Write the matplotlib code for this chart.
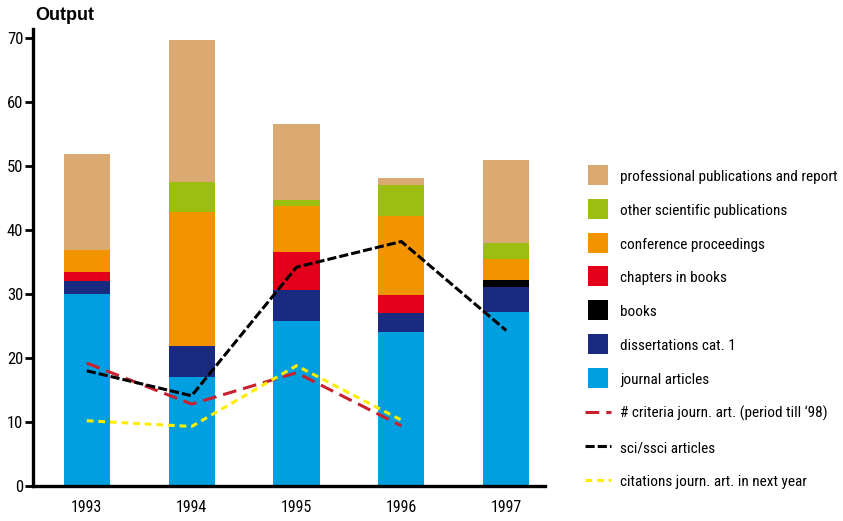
import numpy as np
import matplotlib.pyplot as plt
from matplotlib import font_manager
from matplotlib.lines import Line2D

# the original uses a condensed face; take the first one that is installed
installed = set(f.name for f in font_manager.fontManager.ttflist)
cond_font = 'DejaVu Sans'
for cand in ['Roboto Condensed', 'Archivo Narrow', 'Fira Sans Condensed', 'Barlow Condensed']:
    if cand in installed:
        cond_font = cand
        break
plt.rcParams['font.family'] = [cond_font, 'DejaVu Sans']

years = ['1993', '1994', '1995', '1996', '1997']

# stacked bar segments, bottom to top
journal = [30.0, 17.0, 25.8, 24.1, 27.2]
dissertations = [2.0, 4.9, 4.8, 2.9, 3.9]
chapters = [1.5, 0.0, 6.0, 2.8, 0.0]
books = [0.0, 0.0, 0.0, 0.0, 1.1]
conference = [3.3, 20.9, 7.2, 12.4, 3.2]
other_sci = [0.0, 4.7, 0.9, 4.8, 2.6]
professional = [15.0, 22.2, 11.9, 1.1, 12.9]

# line series
criteria = [19.2, 12.8, 17.7, 9.4]
sci_ssci = [18.0, 14.1, 34.2, 38.2, 24.3]
citations = [10.2, 9.3, 18.8, 10.3]

segments = [
    (journal, '#009fe0', 'journal articles'),
    (dissertations, '#1a2a80', 'dissertations cat. 1'),
    (books, '#000000', 'books'),
    (chapters, '#e2001a', 'chapters in books'),
    (conference, '#f29400', 'conference proceedings'),
    (other_sci, '#9bbe10', 'other scientific publications'),
    (professional, '#dba972', 'professional publications and report'),
]
legend_order = ['professional publications and report', 'other scientific publications',
                'conference proceedings', 'chapters in books', 'books',
                'dissertations cat. 1', 'journal articles']

red_c, yel_c = '#c8202f', '#ffed00'
red_d, blk_d, yel_d = (4.5, 2.3), (3, 1), (2.2, 1.6)

fig = plt.figure(figsize=(8.43, 5.21), dpi=100)
ax = fig.add_axes([0.039, 0.0672, 0.6075, 0.877])

x = np.arange(len(years))
bottom = np.zeros(len(years))
for vals, col, lab in segments:
    ax.bar(x, vals, width=0.44, bottom=bottom, color=col, linewidth=0)
    bottom += np.array(vals)

ax.plot(x[:4], criteria, color=red_c, lw=2.2, dashes=red_d, zorder=3)
ax.plot(x, sci_ssci, color='black', lw=2.2, dashes=blk_d, zorder=4)
ax.plot(x[:4], citations, color=yel_c, lw=2.2, dashes=yel_d, zorder=5)

ax.set_xlim(-0.514, 4.37)
ax.set_ylim(0, 71.4)
ax.set_yticks(range(0, 71, 10))
ax.set_xticks(x)
ax.set_xticklabels(years)
ax.tick_params(axis='x', length=0, pad=10, labelsize=11.5)
ax.tick_params(axis='y', length=5.5, width=2, labelsize=12, pad=1.5)
for s in ['top', 'right']:
    ax.spines[s].set_visible(False)
ax.spines['left'].set_linewidth(2.4)
ax.spines['bottom'].set_linewidth(2.4)

fig.text(0.042, 0.971, 'Output', fontsize=13, fontweight='bold',
         family=['Liberation Sans', 'DejaVu Sans'], va='center')

colmap = {lab: col for _, col, lab in segments}
handles = [Line2D([], [], ls='none', marker='s', markersize=15, markeredgewidth=0,
                  color=colmap[lab], label=lab) for lab in legend_order]
handles += [
    Line2D([], [], color=red_c, lw=2.2, dashes=red_d,
           label="# criteria journ. art. (period till \u201898)"),
    Line2D([], [], color='black', lw=2.2, dashes=blk_d, label='sci/ssci articles'),
    Line2D([], [], color=yel_c, lw=2.2, dashes=yel_d,
           label='citations journ. art. in next year'),
]
fig.legend(handles=handles, loc='upper left', bbox_to_anchor=(0.694, 0.676),
           frameon=False, fontsize=11, handlelength=1.72, handleheight=1.0,
           handletextpad=0.55, labelspacing=1.23, borderaxespad=0, borderpad=0)

fig.savefig('out.png', dpi=100)
